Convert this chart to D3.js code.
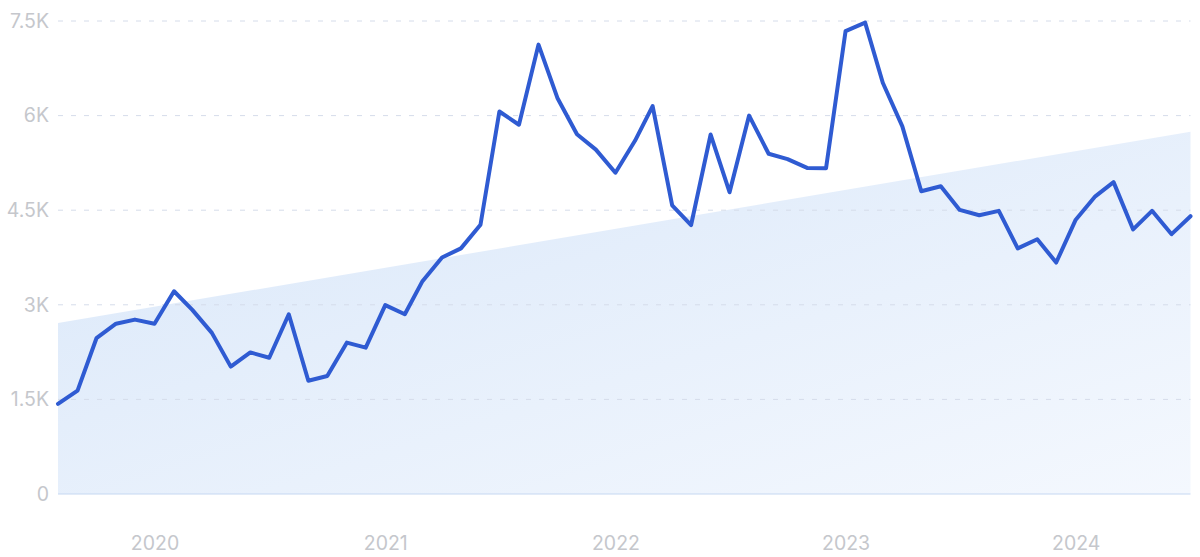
<!DOCTYPE html>
<html>
<head>
<meta charset="utf-8">
<script src="https://cdn.jsdelivr.net/npm/d3@7"></script>
<style>
  html, body { margin: 0; padding: 0; background: #ffffff; }
  svg { display: block; }
  text { font-family: Inter, "Noto Sans", sans-serif; }
</style>
</head>
<body>
<svg id="chart" width="1200" height="557"></svg>
<script>
// ---- Data ----
const startMonth = "2019-08";   // first point
const values = [
  1430, 1640, 2470, 2700, 2765, 2700, 3215, 2920, 2555, 2020,
  2245, 2160, 2850, 1795, 1870, 2400, 2320, 2995, 2850, 3375,
  3750, 3895, 4270, 6065, 5855, 7125, 6280, 5705, 5460, 5095,
  5600, 6150, 4575, 4265, 5700, 4785, 6000, 5395, 5310, 5170,
  5165, 7340, 7475, 6520, 5830, 4800, 4880, 4505, 4420, 4490,
  3895, 4040, 3670, 4350, 4720, 4945, 4195, 4490, 4120, 4405
];
const trendValues = [2710, 5745];          // trend band start / end
const yTicks = [0, 1500, 3000, 4500, 6000, 7500];
const yTickLabels = ["0", "1.5K", "3K", "4.5K", "6K", "7.5K"];
const xTickYears = [2020, 2021, 2022, 2023, 2024];

// ---- Layout ----
const svg = d3.select("#chart");
const W = 1200, H = 557;
const m = { left: 58, right: 9.5, top: 21, bottom: 63 };

const parse = d3.timeParse("%Y-%m");
const t0 = parse(startMonth);
const dates = values.map((v, i) => d3.timeMonth.offset(t0, i));
const data = values.map((v, i) => ({ date: dates[i], value: v }));

const x = d3.scaleTime()
  .domain([dates[0], dates[dates.length - 1]])
  .range([m.left, W - m.right]);
const y = d3.scaleLinear()
  .domain([0, 7500])
  .range([H - m.bottom, m.top]);

// gradient for trend band
const defs = svg.append("defs");
const grad = defs.append("linearGradient")
  .attr("id", "bandGrad")
  .attr("x1", "0%").attr("y1", "0%")
  .attr("x2", "100%").attr("y2", "100%");
grad.append("stop").attr("offset", "0%").attr("stop-color", "#d9e7f9");
grad.append("stop").attr("offset", "100%").attr("stop-color", "#f4f8fe");

// trend band
const trendData = [
  { date: dates[0], value: trendValues[0] },
  { date: dates[dates.length - 1], value: trendValues[1] }
];
svg.append("path")
  .datum(trendData)
  .attr("fill", "url(#bandGrad)")
  .attr("d", d3.area().x(d => x(d.date)).y0(y(0)).y1(d => y(d.value)));

// grid lines
svg.append("g")
  .selectAll("line")
  .data(yTicks.filter(d => d > 0))
  .join("line")
  .attr("x1", m.left).attr("x2", W - m.right)
  .attr("y1", d => y(d)).attr("y2", d => y(d))
  .attr("stroke", "#d5dcea")
  .attr("stroke-width", 1)
  .attr("stroke-dasharray", "5,8");

// baseline
svg.append("line")
  .attr("x1", m.left).attr("x2", W - m.right)
  .attr("y1", y(0)).attr("y2", y(0))
  .attr("stroke", "#c6d8f2")
  .attr("stroke-width", 1.2);

// y axis labels
const yAxis = d3.axisLeft(y)
  .tickValues(yTicks)
  .tickFormat((d, i) => yTickLabels[i])
  .tickSize(0)
  .tickPadding(9);
const gy = svg.append("g").attr("transform", `translate(${m.left},0)`).call(yAxis);
gy.select(".domain").remove();
gy.selectAll("text")
  .attr("fill", "#c5c7cc")
  .attr("font-size", 19.5)
  .attr("font-weight", 400);

// x axis labels
const xAxis = d3.axisBottom(x)
  .tickValues(xTickYears.map(yr => new Date(yr, 0, 1)))
  .tickFormat(d3.timeFormat("%Y"))
  .tickSize(0)
  .tickPadding(0);
const gx = svg.append("g").attr("transform", `translate(0,${H - 14})`).call(xAxis);
gx.select(".domain").remove();
gx.selectAll("text")
  .attr("fill", "#c5c7cc")
  .attr("font-size", 19.5)
  .attr("dy", "0.35em");

// line
svg.append("path")
  .datum(data)
  .attr("fill", "none")
  .attr("stroke", "#2f5bd2")
  .attr("stroke-width", 4)
  .attr("stroke-linejoin", "round")
  .attr("stroke-linecap", "round")
  .attr("d", d3.line().x(d => x(d.date)).y(d => y(d.value)));
</script>
</body>
</html>
